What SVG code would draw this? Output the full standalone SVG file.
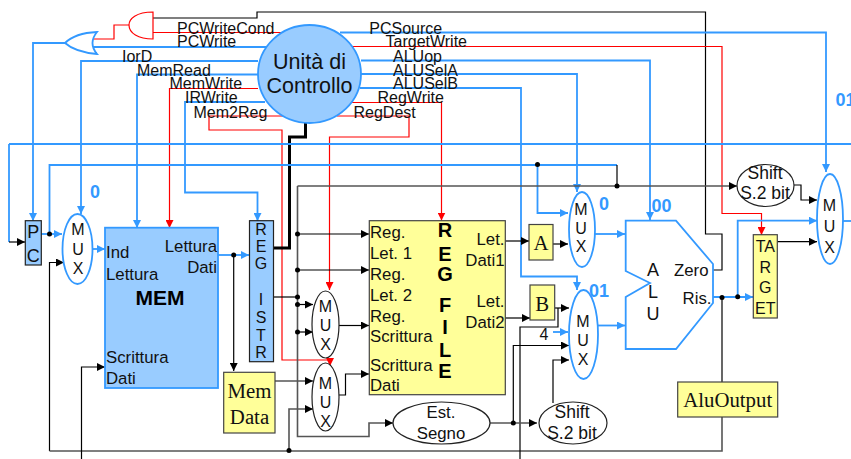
<svg xmlns="http://www.w3.org/2000/svg" width="851" height="459" viewBox="0 0 851 459">
<style>
text{font-family:"Liberation Sans",Arial,sans-serif;font-size:16px;fill:#111}
.m{text-anchor:middle}.e{text-anchor:end}
.n{font-size:16.800px}
.serif{font-family:"Liberation Serif","Times New Roman",serif;font-size:20.800px}
.bold{font-weight:bold}
.num{font-weight:bold;font-size:18px;fill:#3399ff}
.big{font-size:20px;font-weight:bold;fill:#000}
.mx{font-size:16px}
path,line{fill:none}
.b{stroke:#3399ff;stroke-width:1.800}
.r{stroke:#ff0000;stroke-width:1.200}
.k{stroke:#000;stroke-width:1.200}
.g{stroke:#555;stroke-width:1.600}
.t{stroke:#000;stroke-width:3}
.ab{marker-end:url(#ab)}.ar{marker-end:url(#ar)}.ak{marker-end:url(#ak)}
.blue{fill:#99ccff;stroke:#3399ff;stroke-width:1.800}
.bluek{fill:#99ccff;stroke:#222;stroke-width:1.200}
.yel{fill:#ffff99;stroke:#444;stroke-width:1.200}
.mb{fill:#fff;stroke:#3399ff;stroke-width:1.800}
.mk{fill:#fff;stroke:#222;stroke-width:1.200}
.el{fill:none;stroke:#222;stroke-width:1.200}
.dot{fill:#000}
</style>
<defs>
<marker id="ab" markerUnits="userSpaceOnUse" markerWidth="8" markerHeight="8" refX="8" refY="4" orient="auto"><path d="M0,0L8,4L0,8Z" style="fill:#3399ff;stroke:none"/></marker>
<marker id="ar" markerUnits="userSpaceOnUse" markerWidth="8" markerHeight="8" refX="8" refY="4" orient="auto"><path d="M0,0L8,4L0,8Z" style="fill:#ff0000;stroke:none"/></marker>
<marker id="ak" markerUnits="userSpaceOnUse" markerWidth="8" markerHeight="8" refX="8" refY="4" orient="auto"><path d="M0,0L8,4L0,8Z" style="fill:#000;stroke:none"/></marker>
</defs>
<g id="connectors">
<path class="k" d="M153,18H257V12H705.500V234H722V270H713"/>
<path class="r" d="M153,32.500H282"/>
<path class="r" d="M129,25H114V39H92"/>
<path class="b" d="M92,47H268"/>
<path class="b ab" d="M65,43H33V221"/>
<path class="b ab" d="M258,61H81V214"/>
<path class="b ab" d="M258,74.500H137V228"/>
<path class="r ar" d="M258,88.500H169.500V228"/>
<path class="b ab" d="M265,102H185V192.500H257.500V221"/>
<path class="r ar" d="M285,116H209V130H282V360H330V366"/>
<path class="b ab" d="M340,32.500H826V172"/>
<path class="r ar" d="M352,46.500H722V213.500H761.500V235"/>
<path class="b ab" d="M361,60.500H650V220"/>
<path class="b ab" d="M361,74H577V192"/>
<path class="b ab" d="M360,88H521V276.500H577V290"/>
<path class="r ar" d="M352,102.500H441.500V220.500"/>
<path class="r ar" d="M337,116H409V137H329.500V290"/>
<path class="t" d="M305.500,123V137H289.500V248H274"/>
<path class="b" d="M9,144H851"/>
<path class="b" d="M9,144V242"/>
<path class="k ak" d="M9,242H25"/>
<path class="b" d="M49.500,234V165H617"/>
<path class="k" d="M617,165V186"/>
<path class="b ab" d="M537.500,165V213H568"/>
<path class="g ak" d="M297.500,186H737"/>
<path class="g ak" d="M297.500,186V436.500H369V423H393"/>
<path class="k ak" d="M297.500,234H369"/>
<path class="k ak" d="M297.500,270H369"/>
<path class="k" d="M274,297H297.500"/>
<path class="k ak" d="M297.500,304.500H313"/>
<path class="k ak" d="M297.500,332H313"/>
<path class="b ab" d="M41,234H62"/>
<path class="k ak" d="M49.500,451V262.500H64"/>
<path class="g" d="M49.500,451H722V417"/>
<path class="k" d="M722,297V382"/>
<path class="g ak" d="M289,451V409H313"/>
<path class="g ak" d="M275,381H313"/>
<path class="b ab" d="M93,249H105"/>
<path class="k ak" d="M81.500,459V367H105"/>
<path class="b ab" d="M218,255H249"/>
<path class="k ak" d="M233.700,255V371"/>
<path class="k ak" d="M339,325.500H369"/>
<path class="k ak" d="M339,395H345.500V374H369"/>
<path class="k ak" d="M505,241H529"/>
<path class="k ak" d="M553,244H568"/>
<path class="k ak" d="M505,318H530"/>
<path class="k ak" d="M555,308H569"/>
<path class="k" d="M520,459V327H558V308"/>
<path class="b ab" d="M553,332H568"/>
<path class="k ak" d="M513.300,423V345.500H569"/>
<path class="g ak" d="M490,423H537"/>
<path class="k ak" d="M553,403V360H569"/>
<path class="b ab" d="M595,234H625"/>
<path class="b ab" d="M598,325.500H625"/>
<path class="b ab" d="M713,297H753"/>
<path class="b ab" d="M737.700,297V220.700H817"/>
<path class="b" d="M843,221H851"/>
<path class="k ak" d="M777,241.700H817"/>
<path class="k ak" d="M794,185H801V200H817"/>
<circle class="dot" cx="49.500" cy="234" r="2.500"/>
<circle class="dot" cx="233.700" cy="255" r="2.500"/>
<circle class="dot" cx="297.500" cy="234" r="2.500"/>
<circle class="dot" cx="297.500" cy="270" r="2.500"/>
<circle class="dot" cx="297.500" cy="297" r="2.500"/>
<circle class="dot" cx="297.500" cy="304.500" r="2.500"/>
<circle class="dot" cx="297.500" cy="332" r="2.500"/>
<circle class="dot" cx="289" cy="450.500" r="2.500"/>
<circle class="dot" cx="513.300" cy="423" r="2.500"/>
<circle class="dot" cx="537.500" cy="164.500" r="2.500"/>
<circle class="dot" cx="617" cy="186" r="2.500"/>
<circle class="dot" cx="722" cy="297.500" r="2.500"/>
<circle class="dot" cx="737.700" cy="296.700" r="2.500"/>
</g>
<g id="signal-labels">
<text x="177" y="33.500">PCWriteCond</text>
<text x="177" y="47.300">PCWrite</text>
<text x="122" y="61.700">IorD</text>
<text x="137" y="75.700">MemRead</text>
<text x="169.500" y="89.300">MemWrite</text>
<text x="185" y="103.300">IRWrite</text>
<text x="193.500" y="117.700">Mem2Reg</text>
<text x="369.300" y="33.500">PCSource</text>
<text x="385.500" y="47.300">TargetWrite</text>
<text x="393" y="61.700">ALUop</text>
<text x="393" y="75.700">ALUSelA</text>
<text x="393" y="89.300">ALUSelB</text>
<text x="377.500" y="103.300">RegWrite</text>
<text x="353.500" y="117.700">RegDest</text>
<text class="num m" x="95" y="198">0</text>
<text class="num m" x="604" y="210">0</text>
<text class="num m" x="661.500" y="212">00</text>
<text class="num m" x="599" y="297">01</text>
<text class="num" x="835.500" y="105.700">01</text>
<text class="m" x="544" y="340">4</text>
</g>
<g id="and-gate"><path d="M153,12C136,12 129,19 129,25C129,33 138,39 153,39Z" style="fill:#fff;stroke:#ff0000;stroke-width:1.200"/></g>
<g id="or-gate"><path d="M97,32Q75,33 65,43Q75,52 97,54Q88,43 97,32Z" style="fill:#fff;stroke:#3399ff;stroke-width:1.800"/></g>
<g id="control-unit"><ellipse cx="309.500" cy="74" rx="51.500" ry="49" class="blue"/>
<text class="m" x="309.500" y="68.500" style="font-size:21.500px">Unità di</text>
<text class="m" x="309.500" y="92.700" style="font-size:21.500px">Controllo</text></g>
<g id="pc"><rect x="25.300" y="220.700" width="16" height="44.300" class="bluek"/>
<text class="m" x="33.300" y="238" style="font-size:18px">P</text><text class="m" x="33.300" y="262" style="font-size:18px">C</text></g>
<g id="mux-pc"><ellipse cx="77.500" cy="249" rx="15" ry="35" class="mb"/>
<text class="m mx" x="78" y="235">M</text><text class="m mx" x="78" y="255">U</text><text class="m mx" x="78" y="274">X</text></g>
<g id="mem"><rect x="105" y="227.700" width="113" height="160.300" class="blue"/>
<text class="n" x="106" y="258">Ind</text><text class="n" x="106" y="279.500">Lettura</text>
<text class="e n" x="217" y="251.700">Lettura</text><text class="e n" x="217" y="273">Dati</text>
<text class="m bold" x="160" y="305" style="font-size:21px;fill:#000">MEM</text>
<text class="n" x="106" y="363">Scrittura</text><text class="n" x="106" y="384">Dati</text></g>
<g id="reg-istr"><rect x="249.500" y="220.700" width="24" height="141" class="bluek"/>
<text class="m mx" x="261" y="235">R</text><text class="m mx" x="261" y="251.700">E</text><text class="m mx" x="261" y="269">G</text>
<text class="m mx" x="261" y="305">I</text><text class="m mx" x="261" y="323">S</text><text class="m mx" x="261" y="340.700">T</text><text class="m mx" x="261" y="358">R</text></g>
<g id="mem-data"><rect x="223.700" y="372.300" width="51.300" height="60.700" class="yel"/>
<text class="serif m" x="249.500" y="398">Mem</text><text class="serif m" x="249.500" y="424">Data</text></g>
<g id="mux-reg"><ellipse cx="325.500" cy="324.500" rx="13.500" ry="33.500" class="mk"/>
<text class="m mx" x="325.500" y="312">M</text><text class="m mx" x="325.500" y="331">U</text><text class="m mx" x="325.500" y="350">X</text></g>
<g id="mux-data"><ellipse cx="325.500" cy="397" rx="13.500" ry="34" class="mk"/>
<text class="m mx" x="325.500" y="389">M</text><text class="m mx" x="325.500" y="408">U</text><text class="m mx" x="325.500" y="427">X</text></g>
<g id="reg-file"><rect x="369.300" y="220.700" width="136" height="174" class="yel"/>
<text class="n" x="370" y="238">Reg.</text><text class="n" x="370" y="259">Let. 1</text><text class="n" x="370" y="279.700">Reg.</text><text class="n" x="370" y="300.700">Let. 2</text>
<text class="n" x="370" y="322">Reg.</text><text class="n" x="370" y="341.700">Scrittura</text><text class="n" x="370" y="370.700">Scrittura</text><text class="n" x="370" y="390.700">Dati</text>
<text class="e n" x="504.500" y="244.700">Let.</text><text class="e n" x="504.500" y="265.700">Dati1</text><text class="e n" x="504.500" y="307">Let.</text><text class="e n" x="504.500" y="328">Dati2</text>
<text class="m big" x="445" y="237">R</text><text class="m big" x="445" y="260.700">E</text><text class="m big" x="445" y="280.700">G</text>
<text class="m big" x="445" y="312">F</text><text class="m big" x="445" y="334">I</text><text class="m big" x="445" y="357">L</text><text class="m big" x="445" y="378">E</text></g>
<g id="est-segno"><ellipse cx="441.500" cy="423" rx="48.500" ry="21" class="el"/>
<text class="m n" x="441" y="418">Est.</text><text class="m n" x="441" y="439">Segno</text></g>
<g id="shift-bottom"><ellipse cx="573" cy="423" rx="34" ry="21" class="el"/>
<text class="m" x="572" y="418" style="font-size:17.500px">Shift</text><text class="m" x="572" y="439" style="font-size:17.500px">S.2 bit</text></g>
<g id="reg-a"><rect x="529" y="224.500" width="24" height="35.500" class="yel"/><text class="serif m" x="541" y="250">A</text></g>
<g id="reg-b"><rect x="530" y="285" width="24.700" height="35" class="yel"/><text class="serif m" x="542.300" y="310.700">B</text></g>
<g id="mux-a"><ellipse cx="582" cy="229.500" rx="13" ry="37.500" class="mb"/>
<text class="m mx" x="581" y="215">M</text><text class="m mx" x="581" y="234">U</text><text class="m mx" x="581" y="252">X</text></g>
<g id="mux-b"><ellipse cx="583.500" cy="334.500" rx="14.500" ry="44.500" class="mb"/>
<text class="m mx" x="583" y="327">M</text><text class="m mx" x="583" y="346">U</text><text class="m mx" x="583" y="365">X</text></g>
<g id="alu"><path d="M625.700,220.700H676L713,264V303L676,349H625.700V297L650,283L625.700,271Z" style="fill:#fff;stroke:#3399ff;stroke-width:1.800"/>
<text class="m" x="653" y="275.700" style="font-size:18px">A</text><text class="m" x="653" y="298" style="font-size:18px">L</text><text class="m" x="653" y="319.700" style="font-size:18px">U</text>
<text class="e n" x="708.500" y="275.700">Zero</text><text class="e n" x="711.500" y="304">Ris.</text></g>
<g id="alu-output"><rect x="677.700" y="382" width="100" height="35" class="yel"/><text class="serif m" x="727.700" y="407">AluOutput</text></g>
<g id="target"><rect x="753.300" y="234.700" width="24" height="83.300" class="yel"/>
<text class="m" x="765.300" y="251.700">TA</text><text class="m" x="765.300" y="272.700">R</text><text class="m" x="765.300" y="293">G</text><text class="m" x="765.300" y="314">ET</text></g>
<g id="shift-top"><ellipse cx="765.500" cy="185.500" rx="28.500" ry="21" class="el"/>
<text class="m" x="765" y="179.300" style="font-size:17.500px">Shift</text><text class="m" x="765" y="199" style="font-size:17.500px">S.2 bit</text></g>
<g id="mux-top"><ellipse cx="830" cy="219" rx="13" ry="45" class="mb"/>
<text class="m mx" x="829.500" y="211">M</text><text class="m mx" x="829.500" y="232">U</text><text class="m mx" x="829.500" y="253">X</text></g>
</svg>
